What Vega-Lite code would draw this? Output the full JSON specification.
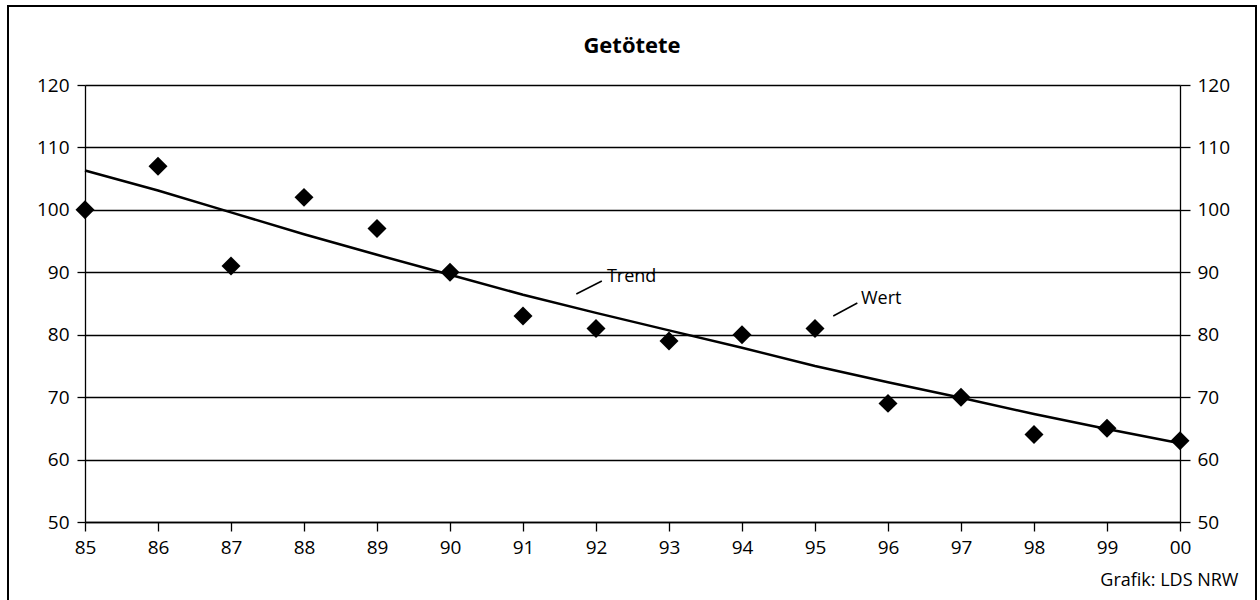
{
  "$schema": "https://vega.github.io/schema/vega-lite/v6.json",
  "width": 1248,
  "height": 600,
  "autosize": {"type": "none"},
  "padding": {"left": 8, "top": 6, "right": 4, "bottom": 0},
  "background": "white",
  "title": {
    "text": "Getötete",
    "font": "Open Sans",
    "fontSize": 22,
    "fontWeight": "bold",
    "color": "black",
    "anchor": "middle",
    "baseline": "middle",
    "offset": -62
  },
  "config": {
    "view": {"stroke": "black", "strokeWidth": 2},
    "font": "Open Sans",
    "axis": {
      "labelFont": "Open Sans",
      "labelFontSize": 19,
      "labelColor": "black",
      "domainColor": "black",
      "domainWidth": 1.3,
      "tickColor": "black",
      "tickWidth": 1.3,
      "gridColor": "black",
      "gridWidth": 1.3,
      "gridOpacity": 1,
      "titleFont": "Open Sans",
      "titleColor": "black"
    }
  },
  "datasets": {
    "werte": [
      {"jahr": 1985, "wert": 100, "trend": 106.3},
      {"jahr": 1986, "wert": 107, "trend": 103.1},
      {"jahr": 1987, "wert": 91, "trend": 99.6},
      {"jahr": 1988, "wert": 102, "trend": 96.1},
      {"jahr": 1989, "wert": 97, "trend": 92.8},
      {"jahr": 1990, "wert": 90, "trend": 89.6},
      {"jahr": 1991, "wert": 83, "trend": 86.4},
      {"jahr": 1992, "wert": 81, "trend": 83.5},
      {"jahr": 1993, "wert": 79, "trend": 80.7},
      {"jahr": 1994, "wert": 80, "trend": 77.9},
      {"jahr": 1995, "wert": 81, "trend": 75.0},
      {"jahr": 1996, "wert": 69, "trend": 72.4},
      {"jahr": 1997, "wert": 70, "trend": 69.9},
      {"jahr": 1998, "wert": 64, "trend": 67.3},
      {"jahr": 1999, "wert": 65, "trend": 64.9},
      {"jahr": 2000, "wert": 63, "trend": 62.6}
    ],
    "notizen": [
      {"label": "Trend", "tx": 1992.15, "ty": 89.25, "lx1": 1991.73, "ly1": 86.52, "lx2": 1992.08, "ly2": 88.6},
      {"label": "Wert", "tx": 1995.63, "ty": 85.72, "lx1": 1995.25, "ly1": 83.0, "lx2": 1995.58, "ly2": 85.08}
    ]
  },
  "layer": [
    {
      "data": {"name": "werte"},
      "mark": {"type": "point", "shape": "diamond", "filled": true, "size": 360, "color": "black", "opacity": 1},
      "encoding": {
        "x": {
          "field": "jahr",
          "type": "quantitative",
          "scale": {"domain": [1985, 2000], "range": [77, 1172], "nice": false, "zero": false},
          "axis": {
            "orient": "bottom",
            "offset": -84,
            "values": [1985, 1986, 1987, 1988, 1989, 1990, 1991, 1992, 1993, 1994, 1995, 1996, 1997, 1998, 1999, 2000],
            "labelExpr": "slice(toString(datum.value), 2)",
            "labelFlush": false,
            "labelOverlap": false,
            "tickSize": 9,
            "labelPadding": 7,
            "grid": false,
            "title": "Grafik: LDS NRW",
            "titleFontSize": 18,
            "titleFontWeight": "normal",
            "titleAnchor": "end",
            "titleAlign": "right",
            "titleBaseline": "middle",
            "titleX": 1230,
            "titleY": 58
          }
        },
        "y": {
          "field": "wert",
          "type": "quantitative",
          "scale": {"domain": [50, 120], "range": [516, 79], "nice": false, "zero": false},
          "axis": {
            "orient": "left",
            "offset": -77,
            "values": [50, 60, 70, 80, 90, 100, 110, 120],
            "tickSize": 8,
            "labelPadding": 8,
            "grid": true,
            "title": null
          }
        }
      }
    },
    {
      "data": {"name": "werte"},
      "mark": {"type": "line", "color": "black", "strokeWidth": 2.5},
      "encoding": {
        "x": {"field": "jahr", "type": "quantitative"},
        "y": {
          "field": "trend",
          "type": "quantitative",
          "axis": {
            "orient": "right",
            "offset": -76,
            "values": [50, 60, 70, 80, 90, 100, 110, 120],
            "tickSize": 10,
            "labelPadding": 7,
            "grid": false,
            "title": null
          }
        }
      }
    },
    {
      "data": {"name": "notizen"},
      "mark": {"type": "rule", "color": "black", "strokeWidth": 1.5},
      "encoding": {
        "x": {"field": "lx1", "type": "quantitative"},
        "x2": {"field": "lx2"},
        "y": {"field": "ly1", "type": "quantitative", "axis": null},
        "y2": {"field": "ly2"}
      }
    },
    {
      "data": {"name": "notizen"},
      "mark": {"type": "text", "align": "left", "baseline": "middle", "fontSize": 18, "font": "Open Sans", "color": "black"},
      "encoding": {
        "x": {"field": "tx", "type": "quantitative"},
        "y": {"field": "ty", "type": "quantitative", "axis": null},
        "text": {"field": "label"}
      }
    }
  ],
  "resolve": {"axis": {"y": "independent"}}
}
